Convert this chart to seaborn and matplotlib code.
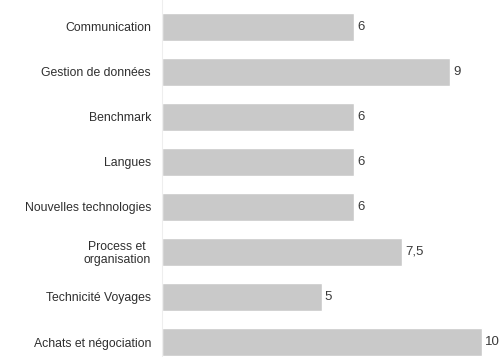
import matplotlib
matplotlib.use("Agg")
import matplotlib.pyplot as plt
import seaborn as sns
import pandas as pd

categories = [
    "Communication",
    "Gestion de données",
    "Benchmark",
    "Langues",
    "Nouvelles technologies",
    "Process et\norganisation",
    "Technicité Voyages",
    "Achats et négociation",
]
values = [6, 9, 6, 6, 6, 7.5, 5, 10]
value_labels = ["6", "9", "6", "6", "6", "7,5", "5", "10"]

sns.set_theme(style="white")
plt.rcParams["font.family"] = ["Liberation Sans", "DejaVu Sans"]

df = pd.DataFrame({"cat": categories, "val": values})

fig = plt.figure(figsize=(5.02, 3.57), dpi=100)
ax = fig.add_axes([162 / 502, 0, 340 / 502, 1])

sns.barplot(data=df, x="val", y="cat", color="#c9c9c9", saturation=1,
            width=0.62, ax=ax)

ax.set_xlim(0, 340 / 32)
ax.set_ylim((357 - 27) / 45, -27 / 45)
ax.set_xlabel("")
ax.set_ylabel("")
ax.set_xticks([])
for s in ["top", "right", "bottom"]:
    ax.spines[s].set_visible(False)
ax.spines["left"].set_color("#eeeeee")
ax.spines["left"].set_linewidth(0.8)

ax.tick_params(axis="y", length=0, pad=8, labelsize=8.8, labelcolor="#2e2e2e")
for lbl in ax.get_yticklabels():
    lbl.set_multialignment("center")
    lbl.set_linespacing(1.1)

for i, (v, t) in enumerate(zip(values, value_labels)):
    ax.text(v + 0.09, i, t, va="center", ha="left", fontsize=9.5,
            color="#3a3a3a", clip_on=False)

fig.savefig("out.png", dpi=100)
